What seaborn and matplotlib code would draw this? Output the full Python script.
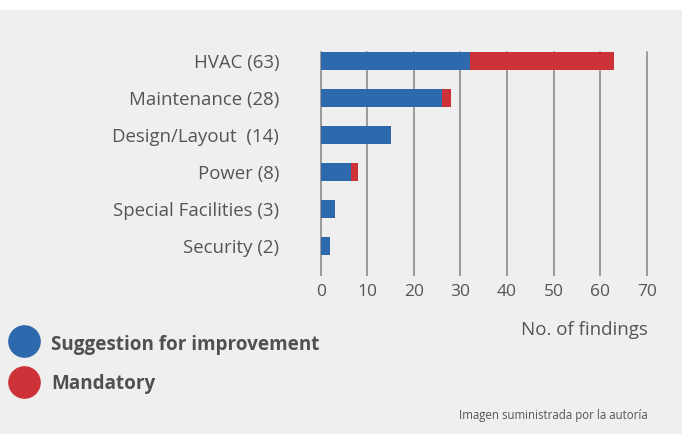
import matplotlib
matplotlib.use("Agg")
import matplotlib.pyplot as plt
import seaborn as sns
import pandas as pd
from matplotlib.lines import Line2D

categories = ["HVAC (63)", "Maintenance (28)", "Design/Layout  (14)", "Power (8)",
              "Special Facilities (3)", "Security (2)"]
suggestion = [32, 26, 15, 6.5, 3, 2]
mandatory = [31, 2, 0, 1.5, 0, 0]
xticks = [0, 10, 20, 30, 40, 50, 60, 70]

BLUE = "#2f69ad"
RED = "#cc3238"
BG = "#efefef"
TXT = "#555555"

sns.set_theme(style="white")
plt.rcParams["font.family"] = ["Open Sans", "DejaVu Sans"]

df = pd.DataFrame({"cat": categories, "sug": suggestion, "man": mandatory})
df["total"] = df["sug"] + df["man"]

W, H = 682, 434
fig = plt.figure(figsize=(W / 100, H / 100), dpi=100)
fig.patch.set_facecolor("white")
fig.patches.append(plt.Rectangle((0, 0), 1, 1 - 10 / H, transform=fig.transFigure,
                                 facecolor=BG, edgecolor="none", zorder=-10))

left, right, top, bottom = 320.7, 646.7, 52, 272
ax = fig.add_axes([left / W, 1 - bottom / H, (right - left) / W, (bottom - top) / H])
ax.set_facecolor("none")

sns.barplot(data=df, y="cat", x="total", color=RED, orient="h", width=0.48,
            ax=ax, saturation=1, zorder=3, linewidth=0)
sns.barplot(data=df, y="cat", x="sug", color=BLUE, orient="h", width=0.48,
            ax=ax, saturation=1, zorder=4, linewidth=0)

ax.set_xlim(0, 70)
ax.set_ylim(5.70, -0.243)
ax.set_xticks(xticks)
ax.set_xticklabels([str(t) for t in xticks])
for s in ax.spines.values():
    s.set_visible(False)
for t in xticks:
    ax.axvline(t, color="#9a9a9a", lw=1.4, zorder=1, clip_on=False)
ax.tick_params(axis="x", length=3, width=1.4, color="#9a9a9a", pad=6,
               labelsize=12.5, labelcolor=TXT, direction="out", bottom=True)
ax.tick_params(axis="y", length=0, pad=30, labelsize=13.4, labelcolor=TXT)
ax.set_xlabel("")
ax.set_ylabel("")

fig.text(648 / W, 1 - 330 / H, "No. of findings", ha="right", va="center",
         fontsize=13.5, color=TXT)

for yy, ty, col, lab in [(341, 345, BLUE, "Suggestion for improvement"),
                         (382, 384, RED, "Mandatory")]:
    fig.add_artist(Line2D([24 / W], [1 - yy / H], marker="o", markersize=22.5,
                          color=col, transform=fig.transFigure, linestyle="none"))
    fig.text(51 / W, 1 - ty / H, lab, ha="left", va="center", fontsize=13.6,
             fontweight="bold", color="#505050")

fig.text(648 / W, 1 - 416 / H, "Imagen suministrada por la autoría", ha="right",
         va="center", fontsize=8.3, color=TXT)

fig.savefig("out.png", dpi=100, facecolor=fig.get_facecolor())
